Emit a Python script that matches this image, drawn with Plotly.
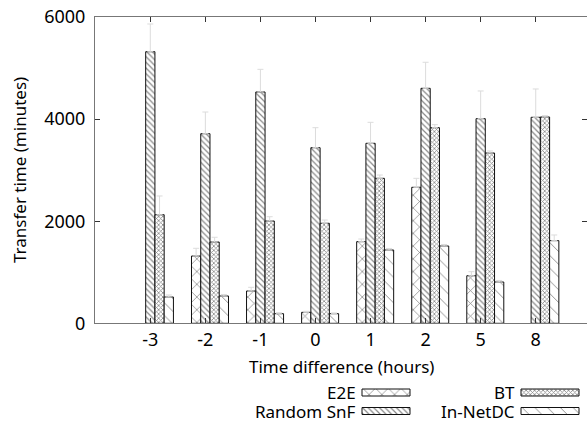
import plotly.graph_objects as go

# ---------------- data ----------------
hours = ["-3", "-2", "-1", "0", "1", "2", "5", "8"]
series_names = ["E2E", "Random SnF", "BT", "In-NetDC"]
e2e = [None, 1318, 633, 215, 1599, 2664, 932, None]
e2e_err = [0, 151, 72, 20, 52, 176, 79, 0]
snf = [5320, 3714, 4531, 3440, 3526, 4603, 4008, 4035]
snf_err = [543, 425, 444, 392, 411, 510, 543, 555]
bt = [2127, 1592, 2004, 1959, 2840, 3832, 3336, 4041]
bt_err = [367, 93, 84, 64, 65, 59, 40, 26]
innet = [515, 535, 188, 188, 1436, 1514, 809, 1619]
innet_err = [40, 30, 20, 15, 30, 30, 30, 111]
y_ticks = [0, 2000, 4000, 6000]

# ---------------- layout constants ----------------
W, H = 587, 425
PL, PR, PT, PB = 95, 587, 17, 323.3
TICK0 = 150.3
STEP = 55.06
FONT = "Noto Sans"
FS = 17
TFS = 18

values = [e2e, snf, bt, innet]
errors = [e2e_err, snf_err, bt_err, innet_err]
patterns = [
    dict(shape="x", size=9, solidity=0.16),
    dict(shape="\\", size=4, solidity=0.30),
    dict(shape="x", size=3, solidity=0.45),
    dict(shape="\\", size=9, solidity=0.10),
]
bw = 9.25 / STEP
offsets = [-1.5, -0.5, 0.5, 1.5]

fig = go.Figure()
for name, vals, errs, pat, off in zip(series_names, values, errors, patterns, offsets):
    fig.add_trace(go.Bar(
        x=hours, y=vals, name=name, width=bw, offset=off * bw,
        marker=dict(color="white", line=dict(color="#111", width=1),
                    pattern=dict(fgcolor="#111", bgcolor="white", **pat)),
        error_y=dict(type="data", array=errs, arrayminus=[0] * len(errs),
                     symmetric=False, color="#dcdcdc", thickness=1, width=3),
        showlegend=False, xaxis="x", yaxis="y",
    ))

# legend swatches drawn on a pixel-space overlay axis
leg_rows = [392.5, 411]
leg_cols = [(362, 410), (521, 579)]
leg_pos = [(0, 0), (0, 1), (1, 0), (1, 1)]
for name, pat, (c, r) in zip(series_names, patterns, leg_pos):
    x0, x1 = leg_cols[c]
    fig.add_trace(go.Bar(
        orientation="h", base=[x0], x=[x1 - x0], y=[leg_rows[r]], width=[7],
        marker=dict(color="white", line=dict(color="#111", width=1),
                    pattern=dict(fgcolor="#111", bgcolor="white", **pat)),
        showlegend=False, xaxis="x2", yaxis="y2", hoverinfo="skip",
    ))
    fig.add_annotation(
        x=(x0 - 4) / W, y=1 - leg_rows[r] / H, xref="paper", yref="paper",
        text=name, showarrow=False, xanchor="right", yanchor="middle",
        font=dict(family=FONT, size=FS, color="black"),
    )

x_lo = -(TICK0 - PL) / STEP
x_hi = x_lo + (PR - PL) / STEP

fig.update_layout(
    width=W, height=H, margin=dict(l=0, r=0, t=0, b=0),
    paper_bgcolor="white", plot_bgcolor="rgba(0,0,0,0)",
    barmode="overlay", showlegend=False,
    font=dict(family=FONT, size=FS, color="black"),
    xaxis=dict(domain=[PL / W, PR / W], anchor="y", type="category",
               range=[x_lo, x_hi], showgrid=False, zeroline=False,
               showline=True, linecolor="#777", linewidth=1, mirror="ticks",
               ticks="inside", ticklen=5, tickcolor="#333", tickwidth=1,
               tickfont=dict(family=FONT, size=TFS, color="black"),
               automargin=False),
    yaxis=dict(domain=[1 - PB / H, 1 - PT / H], anchor="x",
               range=[0, 6000], tickvals=y_ticks, showgrid=False, zeroline=False,
               showline=True, linecolor="#777", linewidth=1, mirror="ticks",
               ticks="inside", ticklen=5, tickcolor="#333", tickwidth=1,
               ticklabelstandoff=5,
               tickfont=dict(family=FONT, size=TFS, color="black"),
               automargin=False),
    xaxis2=dict(domain=[0, 1], anchor="y2", range=[0, W], visible=False, fixedrange=True),
    yaxis2=dict(domain=[0, 1], anchor="x2", range=[H, 0], visible=False, fixedrange=True),
)

fig.add_annotation(x=19 / W, y=1 - 170 / H, xref="paper", yref="paper",
                   text="Transfer time (minutes)", textangle=-90, showarrow=False,
                   xanchor="center", yanchor="middle",
                   font=dict(family=FONT, size=FS, color="black"))
fig.add_annotation(x=(PL + PR) / 2 / W, y=1 - 366 / H, xref="paper", yref="paper",
                   text="Time difference (hours)", showarrow=False,
                   xanchor="center", yanchor="middle",
                   font=dict(family=FONT, size=FS, color="black"))

fig.write_html("out.html")
